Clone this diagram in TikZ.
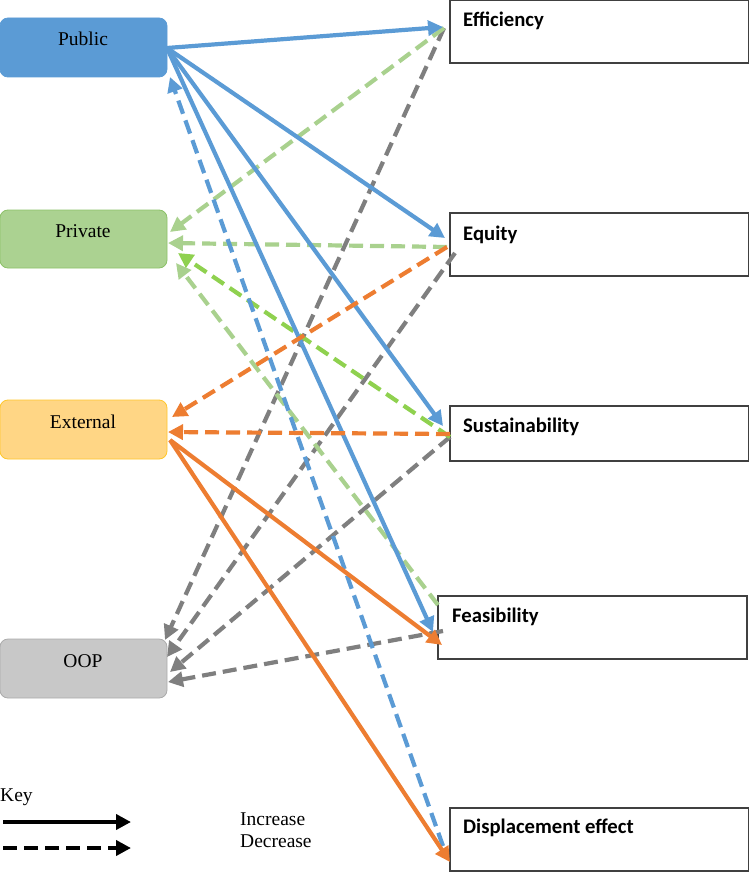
\documentclass[tikz,border=0pt]{standalone}
\usepackage{fontspec}
\setmainfont{Liberation Serif}
\newfontfamily\calib{Carlito}
\usetikzlibrary{arrows.meta}
\definecolor{cblue}{HTML}{5B9BD5}
\definecolor{clgreen}{HTML}{A9D18E}
\definecolor{cbgreen}{HTML}{8FD14F}
\definecolor{corange}{HTML}{ED7D31}
\definecolor{cgray}{HTML}{7F7F7F}
\definecolor{pubfill}{HTML}{5B9BD5}
\definecolor{privfill}{HTML}{ABD291}
\definecolor{privdraw}{HTML}{8CC168}
\definecolor{extfill}{HTML}{FFD685}
\definecolor{extdraw}{HTML}{FFC72C}
\definecolor{oopfill}{HTML}{C8C8C8}
\definecolor{oopdraw}{HTML}{ABABAB}
\definecolor{boxdraw}{HTML}{404040}
\tikzset{
  srcbox/.style={rounded corners=8pt, line width=0.8pt},
  tgtbox/.style={draw=boxdraw, line width=1.3pt, fill=white},
  srclabel/.style={anchor=base, font=\fontsize{19.5}{22}\selectfont, inner sep=0pt},
  tgtlabel/.style={anchor=base west, font=\calib\bfseries\fontsize{20.7}{24}\selectfont, inner sep=0pt},
  conn/.style={line width=4.2pt, -{Triangle[length=15pt,width=15pt]}},
  dsh/.style={dash pattern=on 14pt off 7pt},
}
\begin{document}
\begin{tikzpicture}[x=1pt,y=-1pt]
\useasboundingbox (0,0) rectangle (749,872);
% source boxes
\filldraw[srcbox, fill=pubfill, draw=pubfill] (0,18) rectangle (167,77);
\node[srclabel] (pub) at (83,46) {Public};
\filldraw[srcbox, fill=privfill, draw=privdraw] (0,210) rectangle (167,268);
\node[srclabel] (priv) at (83,237) {Private};
\filldraw[srcbox, fill=extfill, draw=extdraw] (0,400) rectangle (167,459);
\node[srclabel] (ext) at (83,428) {External};
\filldraw[srcbox, fill=oopfill, draw=oopdraw] (0,639) rectangle (167,698);
\node[srclabel] (oop) at (83,667) {OOP};
% target boxes
\draw[tgtbox] (450,0.7) rectangle (748.3,63);
\node[tgtlabel] (eff) at (463,27) {Efficiency};
\draw[tgtbox] (450,213) rectangle (748.3,276);
\node[tgtlabel] (equ) at (463,240) {Equity};
\draw[tgtbox] (450,406) rectangle (748.3,461);
\node[tgtlabel] (sus) at (463,432) {Sustainability};
\draw[tgtbox] (438,596) rectangle (747,659);
\node[tgtlabel] (fea) at (452,622) {Feasibility};
\draw[tgtbox] (450,808) rectangle (748.3,871);
\node[tgtlabel] (dis) at (463,833) {Displacement effect};
% anchor coordinates
\coordinate (pubO) at (167,48);
\coordinate (pubIn) at (170,77);
\coordinate (effIn) at (443,27);
\coordinate (effO) at (444,28);
\coordinate (equIn) at (445,238);
\coordinate (equO) at (447,247);
\coordinate (equO2) at (455,253);
\coordinate (susIn) at (443,426);
\coordinate (susO) at (450,434);
\coordinate (susO2) at (450,437);
\coordinate (feaIn) at (433,632);
\coordinate (feaIn2) at (442,645);
\coordinate (feaO) at (438,605);
\coordinate (feaO2) at (443,631);
\coordinate (disO) at (443,846);
\coordinate (disIn) at (450,862);
\coordinate (privA) at (170,232);
\coordinate (privB) at (168,243);
\coordinate (privC) at (178,253);
\coordinate (privD) at (176,263);
\coordinate (extA) at (172,417);
\coordinate (extB) at (168,432);
\coordinate (extO) at (170,440);
\coordinate (oopA) at (165,640);
\coordinate (oopB) at (167,657);
\coordinate (oopC) at (170,672);
\coordinate (oopD) at (168,682);
% gray decrease arrows
\draw[conn, dsh, cgray] (effO) -- (oopA);
\draw[conn, dsh, cgray] (equO2) -- (oopB);
\draw[conn, dsh, cgray] (susO2) -- (oopC);
\draw[conn, dsh, cgray] (feaO2) -- (oopD);
% green decrease arrows
\draw[conn, dsh, clgreen] (effO) -- (privA);
\draw[conn, dsh, clgreen] (equO) -- (privB);
\draw[conn, dsh, clgreen] (feaO) -- (privD);
\draw[conn, dsh, cbgreen] (susO2) -- (privC);
% blue
\draw[conn, dsh, cblue] (disO) -- (pubIn);
\draw[conn, cblue] (pubO) -- (effIn);
\draw[conn, cblue] (pubO) -- (equIn);
\draw[conn, cblue] (pubO) -- (susIn);
\draw[conn, cblue] (pubO) -- (feaIn);
% orange
\draw[conn, dsh, corange] (equO) -- (extA);
\draw[conn, dsh, corange] (susO) -- (extB);
\draw[conn, corange] (extO) -- (feaIn2);
\draw[conn, corange] (extO) -- (disIn);
% key
\node[anchor=base west, inner sep=0pt, font=\fontsize{19.5}{22}\selectfont] (key) at (0,801) {Key};
\coordinate (k1a) at (3,822);
\coordinate (k1b) at (131,822);
\coordinate (k2a) at (3,848);
\coordinate (k2b) at (131,848);
\draw[conn, black] (k1a) -- (k1b);
\draw[conn, black, dash pattern=on 14pt off 7pt] (k2a) -- (k2b);
\node[anchor=base west, inner sep=0pt, font=\fontsize{19.5}{22}\selectfont] (inc) at (240,825) {Increase};
\node[anchor=base west, inner sep=0pt, font=\fontsize{19.5}{22}\selectfont] (dec) at (240,847) {Decrease};
\end{tikzpicture}
\end{document}
